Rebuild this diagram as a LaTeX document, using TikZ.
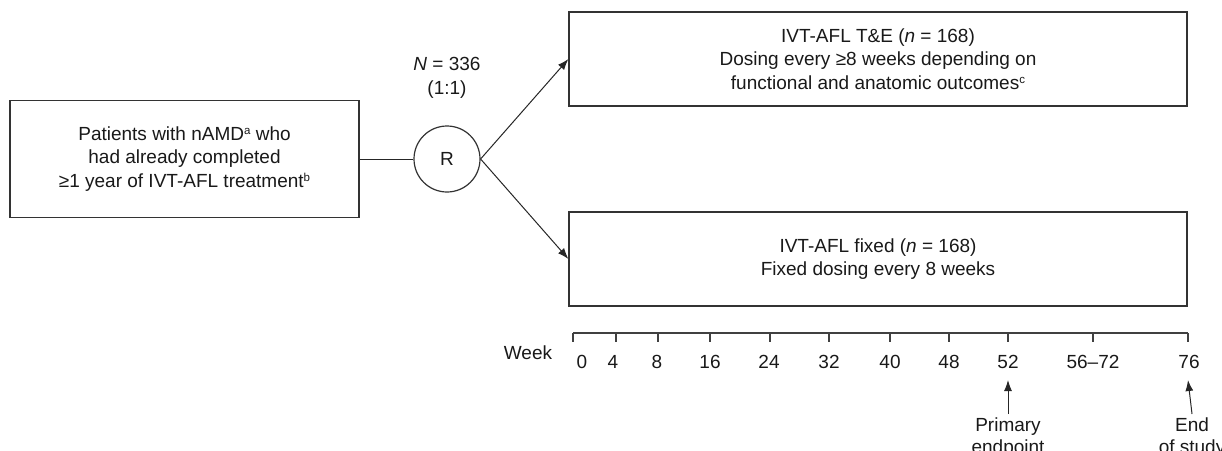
\documentclass[tikz,border=0pt]{standalone}
\usepackage{fontspec}
\setmainfont{Liberation Sans}
\usetikzlibrary{arrows.meta}
\newcommand{\supl}[1]{\raisebox{0.55ex}{\fontsize{11.5}{11.5}\selectfont #1}}
\tikzset{
  lbl/.style={font=\fontsize{19}{23.5}\selectfont, text=black!90, align=center, inner sep=0pt},
  box/.style={lbl, draw=black!80, line width=1.2pt},
  conn/.style={draw=black!85, line width=1pt},
  arr/.style={conn, -{Latex[length=11pt,width=8pt]}},
  tick/.style={draw=black!75, line width=1.2pt},
}
\begin{document}
\begin{tikzpicture}[x=1pt,y=-1pt]
\useasboundingbox (0,0) rectangle (1222,450);
% left box
\node[box, minimum width=349pt, minimum height=117pt] (pat) at (184.5,159)
  {Patients with nAMD\supl{a} who\\had already completed\\≥1 year of IVT-AFL treatment\supl{b}};
% randomisation circle
\node[lbl, draw=black!80, line width=1.2pt, circle, minimum size=66pt] (R) at (447,159) {R};
\node[lbl] (N) at (447,78) {\textit{N} = 336\\(1:1)};
% treatment boxes
\node[box, minimum width=618pt, minimum height=94pt] (te) at (878,59)
  {IVT-AFL T\&E (\textit{n} = 168)\\Dosing every ≥8 weeks depending on\\functional and anatomic outcomes\supl{c}};
\node[box, minimum width=618pt, minimum height=94pt] (fx) at (878,259)
  {IVT-AFL fixed (\textit{n} = 168)\\Fixed dosing every 8 weeks};
% connectors
\draw[conn] (pat.east) -- (R.west);
\draw[arr] (R.east) -- (te.west);
\draw[arr] (R.east) -- (fx.west);
% timeline
\coordinate (tl0) at (573,333);
\coordinate (tl1) at (1188,333);
\draw[tick] (tl0) -- (tl1);
\foreach \x in {573,616,658,710,770,829,890,949,1008,1093,1188}
  \draw[tick] (\x,333) -- (\x,342);
\node[lbl] (wk) at (528,353) {Week};
\foreach \x/\t in {582/0,613/4,657/8,710/16,769/24,829/32,890/40,949/48,1008/52,1093/56--72,1189/76}
  \node[lbl] at (\x,362) {\t};
% endpoint arrows
\coordinate (a52) at (1008,380);
\coordinate (a76) at (1188,380);
\node[lbl, anchor=north, font=\fontsize{19}{22}\selectfont, outer sep=4pt] (pe) at (1008,414) {Primary\\endpoint};
\node[lbl, anchor=north, font=\fontsize{19}{22}\selectfont, outer sep=4pt] (es) at (1192,414) {End\\of study};
\draw[arr] (pe.north) -- (a52);
\draw[arr] (es.north) -- (a76);
\end{tikzpicture}
\end{document}
